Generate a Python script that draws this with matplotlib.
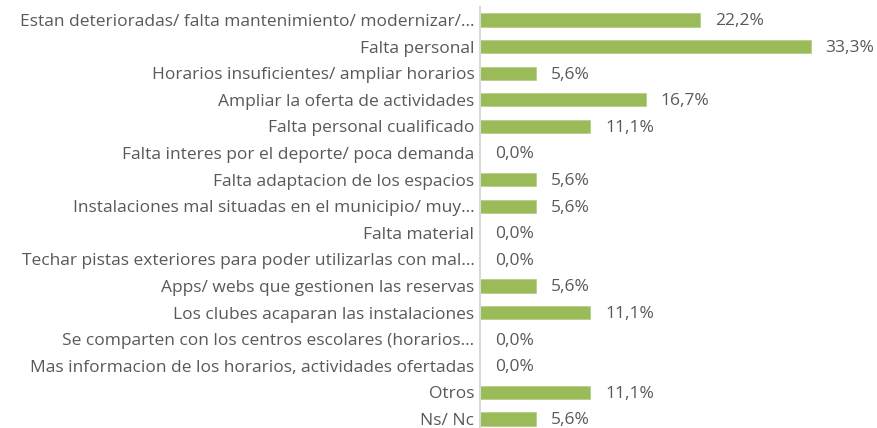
import matplotlib
matplotlib.use("Agg")
import matplotlib.pyplot as plt
from matplotlib.transforms import offset_copy

categories = [
    "Estan deterioradas/ falta mantenimiento/ modernizar/...",
    "Falta personal",
    "Horarios insuficientes/ ampliar horarios",
    "Ampliar la oferta de actividades",
    "Falta personal cualificado",
    "Falta interes por el deporte/ poca demanda",
    "Falta adaptacion de los espacios",
    "Instalaciones mal situadas en el municipio/ muy...",
    "Falta material",
    "Techar pistas exteriores para poder utilizarlas con mal...",
    "Apps/ webs que gestionen las reservas",
    "Los clubes acaparan las instalaciones",
    "Se comparten con los centros escolares (horarios...",
    "Mas informacion de los horarios, actividades ofertadas",
    "Otros",
    "Ns/ Nc",
]
values = [22.2, 33.3, 5.6, 16.7, 11.1, 0.0, 5.6, 5.6, 0.0, 0.0, 5.6, 11.1, 0.0, 0.0, 11.1, 5.6]
value_labels = ["22,2%", "33,3%", "5,6%", "16,7%", "11,1%", "0,0%", "5,6%", "5,6%",
                "0,0%", "0,0%", "5,6%", "11,1%", "0,0%", "0,0%", "11,1%", "5,6%"]

plt.rcParams['font.family'] = ['Open Sans', 'DejaVu Sans']
W, H = 877, 428
fig = plt.figure(figsize=(W / 100, H / 100), dpi=100)
left = 480 / W
top = 6.7
ax = fig.add_axes([left, 0, 1 - left, (H - top) / H])

text_color = "#595959"
bar_color = "#9BBB59"
y = list(range(len(categories)))
ax.barh(y, values, height=0.5, color=bar_color, edgecolor="#B5D08A", linewidth=0.6)
ax.set_xlim(0, 40)
ax.set_ylim(15 + 9 / 26.6, -0.5)
ax.set_yticks(y)
ax.set_yticklabels(categories, fontsize=12.5, color=text_color)
ax.tick_params(axis='y', length=0, pad=4)
ax.set_xticks([])
for s in ["top", "right", "bottom"]:
    ax.spines[s].set_visible(False)
ax.spines["left"].set_color("#D9D9D9")
ax.spines["left"].set_linewidth(1.5)

trans = offset_copy(ax.transData, fig=fig, x=15, y=-1.5, units='dots')
for yi, v, lab in zip(y, values, value_labels):
    ax.text(v, yi, lab, transform=trans, va='center', ha='left', fontsize=12.5, color=text_color)

fig.savefig("out.png", dpi=100)
